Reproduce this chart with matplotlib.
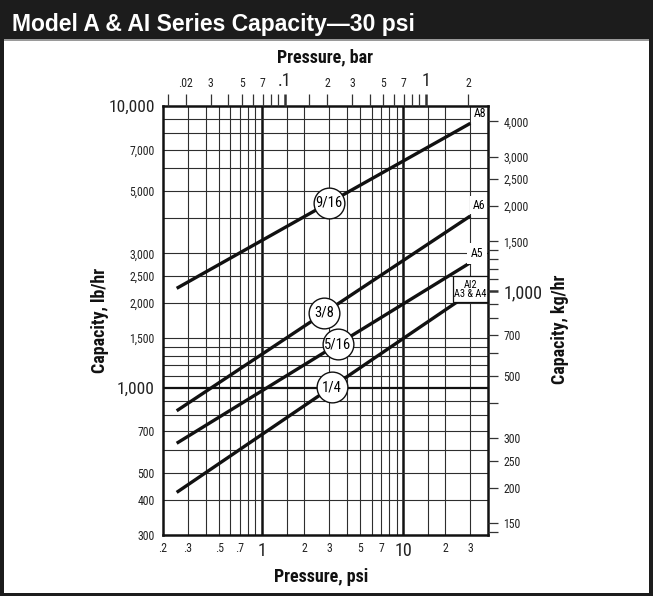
import numpy as np
import matplotlib
matplotlib.use("Agg")
import matplotlib.pyplot as plt
from matplotlib import font_manager
from matplotlib.patches import Rectangle
from matplotlib.ticker import NullLocator, NullFormatter

# values (straight lines on log-log paper)
psi_ends = [0.25, 30]
cap_a8 = [2253, 8680]     # 9/16 orifice
cap_a6 = [828, 4070]      # 3/8
cap_a5 = [635, 2779]      # 5/16
cap_a234 = [425, 2170]    # 1/4
orifice = ["9/16", "3/8", "5/16", "1/4"]
orifice_psi = [3.0, 2.77, 3.44, 3.12]   # where the size bubble sits

psi_ticks = [0.2, 0.3, 0.5, 0.7, 1, 2, 3, 5, 7, 10, 20, 30]
psi_labels = [".2", ".3", ".5", ".7", "1", "2", "3", "5", "7", "10", "2", "3"]
lb_ticks = [300, 400, 500, 700, 1000, 1500, 2000, 2500, 3000, 5000, 7000, 10000]
lb_labels = ["300", "400", "500", "700", "1,000", "1,500", "2,000", "2,500",
             "3,000", "5,000", "7,000", "10,000"]
bar_ticks = [0.02, 0.03, 0.05, 0.07, 0.1, 0.2, 0.3, 0.5, 0.7, 1, 2]
bar_labels = [".02", "3", "5", "7", ".1", "2", "3", "5", "7", "1", "2"]
bar_minor = [0.015, 0.04, 0.06, 0.08, 0.09, 0.15, 0.4, 0.6, 0.8, 0.9]
kg_ticks = [150, 200, 250, 300, 500, 700, 1000, 1500, 2000, 2500, 3000, 4000]
kg_labels = ["150", "200", "250", "300", "500", "700", "1,000", "1,500",
             "2,000", "2,500", "3,000", "4,000"]
kg_minor = [140, 400, 600, 800, 900, 1100, 1200, 1300, 1400]

grid_psi = [0.3, 0.4, 0.5, 0.6, 0.7, 0.8, 0.9, 1.5, 2, 3, 4, 5, 6, 7, 8, 9, 15, 20, 30]
grid_lb = [400, 500, 600, 700, 800, 900, 1100, 1200, 1300, 1400, 1500,
           2000, 2500, 3000, 4000, 5000, 6000, 7000, 8000, 9000]

PSI_PER_BAR = 14.5038
KG_PER_LB = 0.453592


def pick(*names):
    for n in names:
        try:
            font_manager.findfont(n, fallback_to_default=False)
            return n
        except ValueError:
            pass
    return "DejaVu Sans"


narrow = pick("Liberation Sans Narrow", "DejaVu Sans Condensed", "Roboto Condensed", "Liberation Sans")
plt.rcParams["font.family"] = narrow

W, H = 653, 596
fig = plt.figure(figsize=(W / 100, H / 100), dpi=100)

# title bar and outer frame
fig.patches.append(Rectangle((0, 1 - 39 / H), 1, 39 / H, transform=fig.transFigure,
                             facecolor="#1c1c1c", edgecolor="none", zorder=0))
for x0, y0, w, h in [(0, 0, 4, H), (W - 4, 0, 4, H), (0, 0, W, 3)]:
    fig.patches.append(Rectangle((x0 / W, y0 / H), w / W, h / H, transform=fig.transFigure,
                                 facecolor="#1c1c1c", edgecolor="none", zorder=0))
fig.patches.append(Rectangle((4 / W, 1 - 41 / H), (W - 8) / W, 2 / H, transform=fig.transFigure,
                             facecolor="#9a9a9a", edgecolor="none", zorder=0))
fig.text(12 / W, 1 - 31 / H, "Model A & AI Series Capacity\u201430 psi", color="white",
         fontsize=16.5, fontweight="bold", family="Liberation Sans", va="baseline")

ax = fig.add_axes([163 / W, 1 - 535 / H, 325 / W, 429 / H])
ax.set_xscale("log")
ax.set_yscale("log")
ax.set_xlim(0.2, 40)
ax.set_ylim(300, 10000)

gc = "#2e2e2e"
for v in grid_psi:
    ax.axvline(v, color=gc, lw=0.8, zorder=1)
for v in [1, 10]:
    ax.axvline(v, color="#111", lw=1.8, zorder=1)
for v in grid_lb:
    ax.axhline(v, color=gc, lw=0.8, zorder=1)
ax.axhline(1000, color="#111", lw=1.6, zorder=1)

series = [cap_a8, cap_a6, cap_a5, cap_a234]
for cap, name, p in zip(series, orifice, orifice_psi):
    ax.plot(psi_ends, cap, color="#111", lw=2.4, solid_capstyle="butt", zorder=3)
    y = 10 ** np.interp(np.log10(p), np.log10(psi_ends), np.log10(cap))
    ax.scatter([p], [y], s=490, facecolor="white", edgecolor="#111", lw=1.0, zorder=5)
    ax.text(p, y, name, ha="center", va="center", fontsize=10.5, zorder=6)

box = dict(facecolor="white", edgecolor="none", pad=1.5)
ax.text(35.0, 9400, "A8", ha="center", va="center", fontsize=8.5, bbox=box, zorder=6)
ax.text(34.5, 4450, "A6", ha="center", va="center", fontsize=8.5, bbox=box, zorder=6)
ax.text(33.4, 3000, "A5", ha="center", va="center", fontsize=8.5,
        bbox=dict(facecolor="white", edgecolor="none", pad=3), zorder=6)
# white label box for the smallest orifice, in axes fractions
ax.add_patch(Rectangle((0.892, 0.542), 0.108, 0.062, transform=ax.transAxes,
                       facecolor="white", edgecolor="#111", lw=0.9, zorder=6))
ax.text(0.946, 0.573, "AI2\nA3 & A4", transform=ax.transAxes, ha="center", va="center",
        fontsize=7.5, linespacing=0.85, zorder=7)

for s in ax.spines.values():
    s.set_linewidth(1.8)
    s.set_color("#111")
    s.set_zorder(10)

ax.xaxis.set_minor_locator(NullLocator())
ax.yaxis.set_minor_locator(NullLocator())
ax.set_xticks(psi_ticks)
ax.set_xticklabels(psi_labels)
ax.set_yticks(lb_ticks)
ax.set_yticklabels(lb_labels)
ax.tick_params(axis="x", length=0, pad=5, labelsize=8.5, labelcolor="#222")
ax.tick_params(axis="y", length=0, pad=6, labelsize=8.5, labelcolor="#222")
for lbl in ax.get_xticklabels():
    if lbl.get_text() in ("1", "10"):
        lbl.set_fontsize(13)
for lbl in ax.get_yticklabels():
    if lbl.get_text() in ("1,000", "10,000"):
        lbl.set_fontsize(12.5)

# top axis in bar
axt = ax.twiny()
axt.set_xscale("log")
axt.set_xlim(0.2 / PSI_PER_BAR, 40 / PSI_PER_BAR)
axt.set_xticks(bar_ticks)
axt.set_xticklabels(bar_labels)
axt.set_xticks(bar_minor, minor=True)
axt.xaxis.set_minor_formatter(NullFormatter())
axt.tick_params(axis="x", which="both", direction="out", length=8.5, width=0.9,
                color="#333", pad=3, labelsize=8.5, labelcolor="#222")
for t, v in zip(axt.xaxis.get_major_ticks(), bar_ticks):
    if v in (0.1, 1):
        t.tick2line.set_markeredgewidth(1.8)
for lbl in axt.get_xticklabels():
    if lbl.get_text() in (".1", "1"):
        lbl.set_fontsize(13)

# right axis in kg/hr
axr = ax.twinx()
axr.set_yscale("log")
axr.set_ylim(300 * KG_PER_LB, 10000 * KG_PER_LB)
axr.set_yticks(kg_ticks)
axr.set_yticklabels(kg_labels)
axr.set_yticks(kg_minor, minor=True)
axr.yaxis.set_minor_formatter(NullFormatter())
axr.tick_params(axis="y", which="both", direction="out", length=7, width=0.9,
                color="#333", pad=4, labelsize=8.5, labelcolor="#222")
for t, v in zip(axr.yaxis.get_major_ticks(), kg_ticks):
    if v == 1000:
        t.tick2line.set_markeredgewidth(1.8)
for lbl in axr.get_yticklabels():
    if lbl.get_text() == "1,000":
        lbl.set_fontsize(13)

for a in (axt, axr):
    for s in a.spines.values():
        s.set_visible(False)

lab = dict(fontsize=13, fontweight="bold", color="#111", ha="center", va="center")
fig.text(325 / W, 1 - 57 / H, "Pressure, bar", **lab)
fig.text(321 / W, 1 - 577 / H, "Pressure, psi", **lab)
fig.text(100 / W, 1 - 320 / H, "Capacity, lb/hr", rotation=90, **lab)
fig.text(560 / W, 1 - 329 / H, "Capacity, kg/hr", rotation=90, **lab)

fig.savefig("out.png", dpi=100)
